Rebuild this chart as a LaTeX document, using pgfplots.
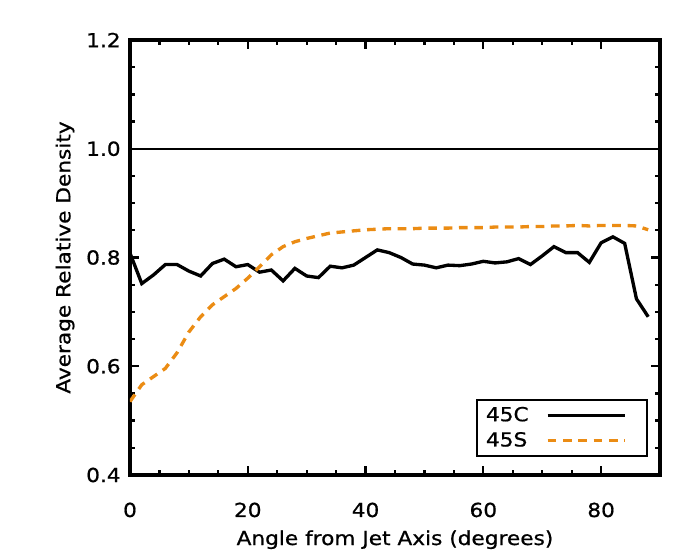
\documentclass[border=0pt]{standalone}
\usepackage{fontspec}
\setmainfont{DejaVu Sans}[FakeStretch=1.12, FakeBold=0.8]
\usepackage{pgfplots}
\pgfplotsset{compat=1.18}
\definecolor{idlorange}{RGB}{235,140,20}
\newcommand\lab{\fontsize{14.5}{17.4}\selectfont}

\begin{document}
\lab
\begin{tikzpicture}
\begin{axis}[
  scale only axis,
  width=397.5pt, height=326.25pt,
  xmin=0, xmax=90, ymin=0.4, ymax=1.2,
  xtick={0,20,40,60,80},
  ytick={0.4,0.6,0.8,1.0,1.2},
  minor x tick num=3, minor y tick num=3,
  axis line style={line width=2.4pt},
  major tick length=6.5pt, minor tick length=3.5pt,
  every tick/.style={black, line width=1.7pt},
  /pgf/number format/assume math mode=true,
  xticklabel style={font=\lab, anchor=base, yshift=-31.5pt},
  yticklabel style={font=\lab, xshift=-2pt,
    /pgf/number format/fixed, /pgf/number format/fixed zerofill,
    /pgf/number format/precision=1},
  xlabel={Angle from Jet Axis (degrees)},
  ylabel={Average Relative Density},
  xlabel style={font=\lab, at={(rel axis cs:0.5,0)}, anchor=base, yshift=-52.5pt},
  ylabel style={font=\lab, at={(rel axis cs:0,0.5)}, anchor=center, yshift=48.75pt},
  legend plot pos=right,
  legend cell align=left,
  legend image code/.code={\draw[#1] (0pt,0pt) -- (58pt,0pt); \path (68pt,0pt);},
  legend style={font=\lab, at={(rel axis cs:0.977,0.041)}, anchor=south east,
    draw=black, line width=1.7pt, inner xsep=5pt, inner ysep=3pt,
    row sep=2pt, column sep=11pt},
]
\coordinate (bl) at (rel axis cs:0,0);
\coordinate (tr) at (rel axis cs:1,1);

\addplot[black, line width=1.8pt, forget plot] coordinates {(0,1) (90,1)};

\addplot[black, line width=2.5pt] coordinates {
(0,0.808) (2,0.752) (4,0.768) (6,0.787) (8,0.787) (10,0.775) (12,0.766)
(14,0.789) (16,0.797) (18,0.783) (20,0.787) (22,0.773) (24,0.777) (26,0.757)
(28,0.780) (30,0.766) (32,0.763) (34,0.784) (36,0.781) (38,0.786) (40,0.800)
(42,0.814) (44,0.809) (46,0.800) (48,0.788) (50,0.786) (52,0.781) (54,0.786)
(56,0.785) (58,0.788) (60,0.793) (62,0.790) (64,0.792) (66,0.798) (68,0.787)
(70,0.803) (72,0.820) (74,0.809) (76,0.809) (78,0.791) (80,0.827) (82,0.838)
(84,0.826) (86,0.724) (88,0.691)
};
\addlegendentry{45C}

\addplot[idlorange, line width=2.5pt, dash pattern=on 6.5pt off 5pt] coordinates {
(0,0.535) (2,0.566) (4,0.581) (6,0.596) (8,0.625) (10,0.663) (12,0.691)
(14,0.713) (16,0.728) (18,0.743) (20,0.762) (22,0.783) (24,0.805) (26,0.820)
(28,0.829) (30,0.835) (32,0.840) (34,0.845) (36,0.847) (38,0.849) (40,0.851)
(42,0.852) (44,0.853) (46,0.853) (48,0.853) (50,0.854) (52,0.854) (54,0.854)
(56,0.855) (58,0.855) (60,0.855) (62,0.856) (64,0.856) (66,0.856) (68,0.857)
(70,0.857) (72,0.858) (74,0.858) (76,0.859) (78,0.858) (80,0.859) (82,0.859)
(84,0.859) (86,0.858) (88,0.851)
};
\addlegendentry{45S}
\end{axis}
\pgfresetboundingbox
\path ([shift={(-97.5pt,-63.75pt)}]bl) rectangle ([shift={(30pt,30pt)}]tr);
\end{tikzpicture}
\end{document}
